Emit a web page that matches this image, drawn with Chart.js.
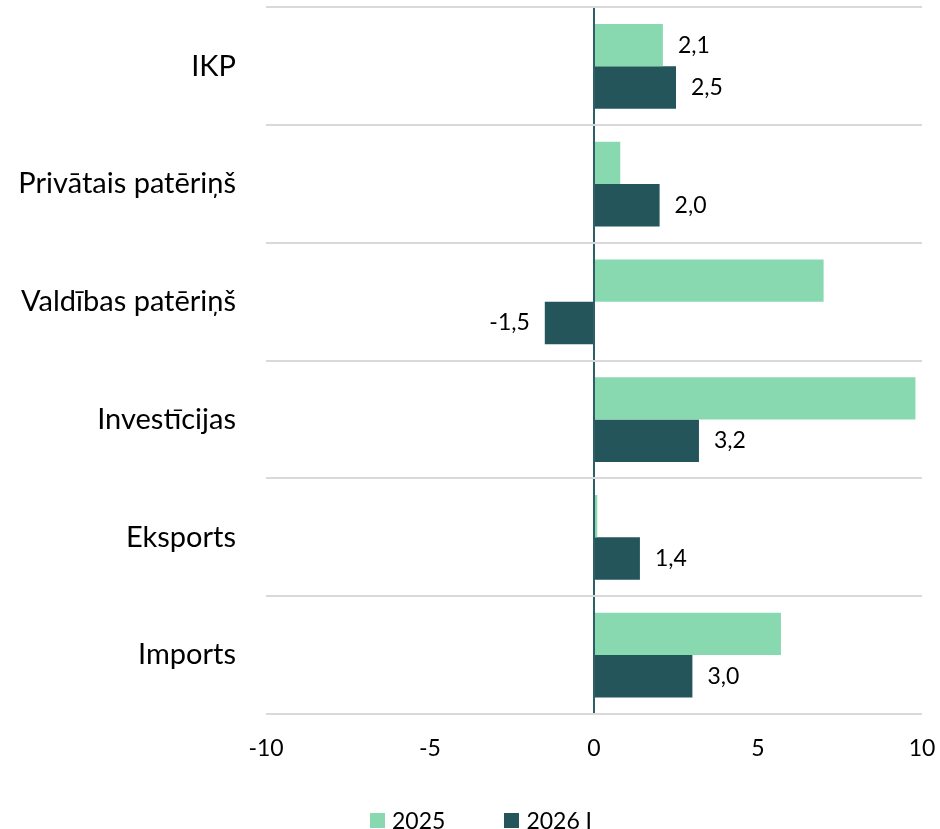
<!DOCTYPE html>
<html>
<head>
<meta charset="utf-8">
<script src="https://cdn.jsdelivr.net/npm/chart.js@4"></script>
<style>
  html, body { margin: 0; padding: 0; background: #fff; }
  #wrap { width: 940px; height: 829px; position: relative; }
  #legend { position: absolute; left: 370px; top: 806px; display: flex; align-items: center;
            font: 23px Lato, 'Open Sans', sans-serif; color: #000; }
  #legend .item { display: flex; align-items: center; margin-right: 59px; }
  #legend .box { width: 15px; height: 15px; margin-right: 7px; }
</style>
</head>
<body>
<div id="wrap"><canvas id="chart"></canvas><div id="legend"></div></div>
<script>
// data
var categories = ['IKP', 'Privātais patēriņš', 'Valdības patēriņš', 'Investīcijas', 'Eksports', 'Imports'];
var values2025 = [2.1, 0.8, 7.0, 9.8, 0.1, 5.7];
var values2026 = [2.5, 2.0, -1.5, 3.2, 1.4, 3.0];
var show2025 = [true, false, false, false, false, false];
var show2026 = [true, true, true, true, true, true];
var xTicks = [-10, -5, 0, 5, 10];

var FONT = "Lato, 'Open Sans', sans-serif";

function fmt(v) {
    return v.toFixed(1).replace('.', ',');
}

// value labels next to the bar ends
var valueLabels = {
    id: 'valueLabels',
    afterDatasetsDraw: function(chart) {
        var ctx = chart.ctx;
        var flags = [show2025, show2026];
        ctx.save();
        ctx.font = '23px ' + FONT;
        ctx.fillStyle = '#000';
        ctx.textBaseline = 'middle';
        chart.data.datasets.forEach(function(ds, di) {
            var meta = chart.getDatasetMeta(di);
            meta.data.forEach(function(bar, i) {
                if (!flags[di][i]) return;
                var v = ds.data[i];
                if (v < 0) {
                    ctx.textAlign = 'right';
                    ctx.fillText(fmt(v), bar.x - 15, bar.y);
                } else {
                    ctx.textAlign = 'left';
                    ctx.fillText(fmt(v), bar.x + 15, bar.y);
                }
            });
        });
        ctx.restore();
    }
};

var ctx = document.getElementById('chart').getContext('2d');
var chart = new Chart(ctx, {
    type: 'bar',
    data: {
        labels: categories,
        datasets: [{
            label: '2025',
            data: values2025,
            backgroundColor: '#89d9b0'
        }, {
            label: '2026 I',
            data: values2026,
            backgroundColor: '#23555b'
        }]
    },
    options: {
        indexAxis: 'y',
        responsive: true,
        maintainAspectRatio: false,
        animation: false,
        datasets: {
            bar: { categoryPercentage: 0.72, barPercentage: 1.0 }
        },
        layout: { padding: { top: 0, right: 18, left: 8, bottom: 0 } },
        scales: {
            x: {
                min: -10,
                max: 10,
                afterBuildTicks: function(axis) {
                    axis.ticks = xTicks.map(function(v) { return { value: v }; });
                },
                afterFit: function(axis) { axis.height = 115; },
                border: { display: false },
                grid: {
                    color: function(c) { return c.tick && c.tick.value === 0 ? '#2e5f66' : 'rgba(0,0,0,0)'; },
                    tickColor: 'rgba(0,0,0,0)',
                    tickLength: 21,
                    lineWidth: 2
                },
                ticks: {
                    color: '#000',
                    padding: 0,
                    maxRotation: 0,
                    font: { family: FONT, size: 23 }
                }
            },
            y: {
                afterFit: function(axis) { axis.width = 258; },
                border: { display: false },
                grid: {
                    color: '#d9d9d9',
                    tickColor: 'rgba(0,0,0,0)',
                    tickLength: 40,
                    lineWidth: 2
                },
                ticks: {
                    color: '#000',
                    padding: -10,
                    font: { family: FONT, size: 29 }
                }
            }
        },
        plugins: {
            legend: { display: false },
            tooltip: { enabled: false }
        }
    },
    plugins: [valueLabels]
});

// legend built from the datasets
var legendEl = document.getElementById('legend');
chart.data.datasets.forEach(function(ds) {
    var item = document.createElement('div');
    item.className = 'item';
    var box = document.createElement('span');
    box.className = 'box';
    box.style.background = ds.backgroundColor;
    item.appendChild(box);
    item.appendChild(document.createTextNode(ds.label));
    legendEl.appendChild(item);
});
</script>
</body>
</html>
